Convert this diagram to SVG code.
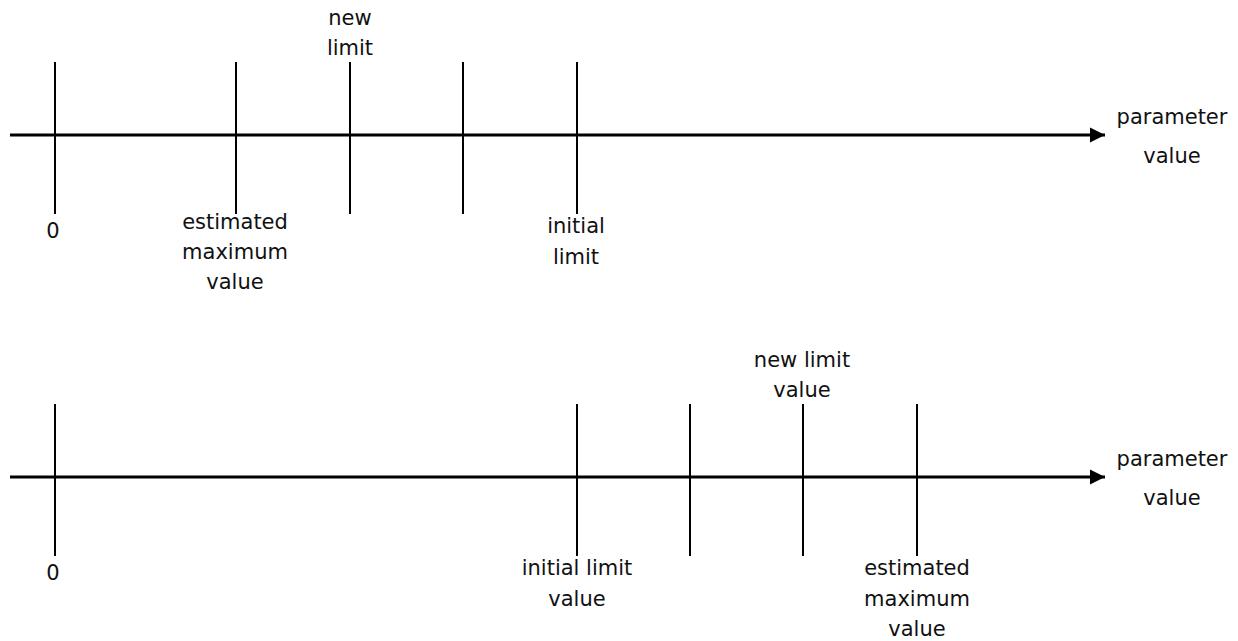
<svg xmlns="http://www.w3.org/2000/svg" width="1238" height="641" viewBox="0 0 1238 641">
  <style>
    .axis { stroke: #000; stroke-width: 3; fill: none; }
    .tick { stroke: #000; stroke-width: 2; fill: none; }
    text { font-family: "DejaVu Sans", Verdana, sans-serif; font-size: 21px; fill: #111; text-anchor: middle; }
  </style>
  <defs>
    <marker id="arrow" markerUnits="userSpaceOnUse" markerWidth="16" markerHeight="16" refX="15" refY="8" orient="auto">
      <path d="M0,0.5 L15,8 L0,15.5 Z" fill="#000"/>
    </marker>
  </defs>

  <!-- upper scale: limit lowered towards the estimated maximum -->
  <g id="scale-top">
    <g id="connectors-top">
      <line class="axis" x1="10" y1="135" x2="1105" y2="135" marker-end="url(#arrow)"/>
    </g>
    <g id="top-zero">
      <line class="tick" x1="55" y1="62" x2="55" y2="214"/>
      <text x="53" y="238">0</text>
    </g>
    <g id="top-estimated">
      <line class="tick" x1="236" y1="62" x2="236" y2="214"/>
      <text x="235" y="229">estimated</text>
      <text x="235" y="259">maximum</text>
      <text x="235" y="289">value</text>
    </g>
    <g id="top-new-limit">
      <line class="tick" x1="350" y1="62" x2="350" y2="214"/>
      <text x="350" y="25">new</text>
      <text x="350" y="55">limit</text>
    </g>
    <g id="top-step">
      <line class="tick" x1="463" y1="62" x2="463" y2="214"/>
    </g>
    <g id="top-initial">
      <line class="tick" x1="577" y1="62" x2="577" y2="214"/>
      <text x="576" y="233">initial</text>
      <text x="576" y="264">limit</text>
    </g>
    <g id="top-label">
      <text x="1172" y="124">parameter</text>
      <text x="1172" y="163">value</text>
    </g>
  </g>

  <!-- lower scale: limit raised towards the estimated maximum -->
  <g id="scale-bottom">
    <g id="connectors-bottom">
      <line class="axis" x1="10" y1="477" x2="1105" y2="477" marker-end="url(#arrow)"/>
    </g>
    <g id="bottom-zero">
      <line class="tick" x1="55" y1="404" x2="55" y2="556"/>
      <text x="53" y="580">0</text>
    </g>
    <g id="bottom-initial">
      <line class="tick" x1="577" y1="404" x2="577" y2="556"/>
      <text x="577" y="575">initial limit</text>
      <text x="577" y="606">value</text>
    </g>
    <g id="bottom-step">
      <line class="tick" x1="690" y1="404" x2="690" y2="556"/>
    </g>
    <g id="bottom-new-limit">
      <line class="tick" x1="803" y1="404" x2="803" y2="556"/>
      <text x="802" y="367">new limit</text>
      <text x="802" y="397">value</text>
    </g>
    <g id="bottom-estimated">
      <line class="tick" x1="917" y1="404" x2="917" y2="556"/>
      <text x="917" y="575">estimated</text>
      <text x="917" y="606">maximum</text>
      <text x="917" y="636">value</text>
    </g>
    <g id="bottom-label">
      <text x="1172" y="466">parameter</text>
      <text x="1172" y="505">value</text>
    </g>
  </g>
</svg>
